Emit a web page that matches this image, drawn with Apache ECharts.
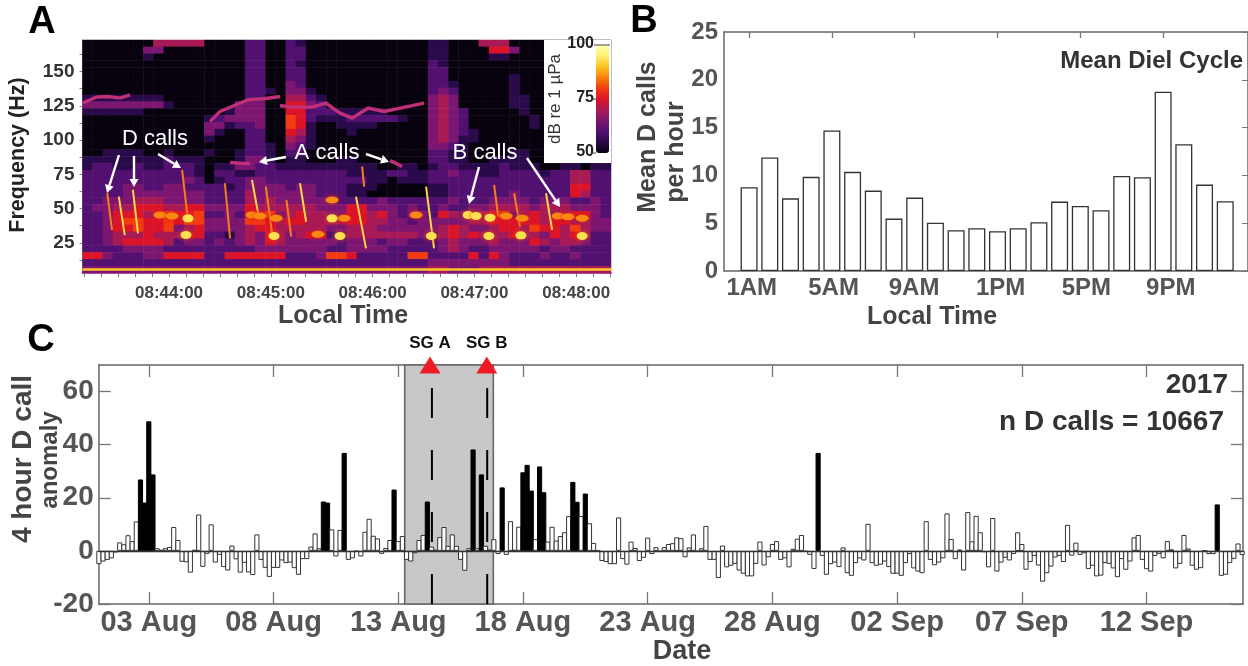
<!DOCTYPE html>
<html><head><meta charset="utf-8">
<style>html,body{margin:0;padding:0;background:#fff}#c{width:1248px;height:666px}</style>
<script src="https://cdn.jsdelivr.net/npm/echarts@6/dist/echarts.min.js"></script>
</head><body><div id="c"></div>
<script>
// ---------- Panel A: spectrogram levels (0..9 => 50..95 dB), rows 173 Hz downward in 5 Hz steps, columns 6 s
const specRows = [
"0000000444 4400002200 2100000000 0000110004 4400000000 00",
"0000003300 0000002200 2200000000 0000110000 5530000000 00",
"0000001000 0000002200 2200000000 0000110000 1100000000 00",
"0000000000 0000002200 2100000000 0000210000 0000000000 00",
"0000000000 0000002200 2200000000 0000220000 0000000000 00",
"0000000000 0000002200 2200000000 0000220000 0010000000 00",
"0000000000 0000002200 3200000000 0000221000 0010000000 00",
"0000000000 0000002210 3310000000 0000232000 0010000000 00",
"1111111100 0000002200 4421000000 0000343000 0011000000 00",
"3333333310 0000033300 5532000000 0000343000 0011000000 00",
"1111110000 0000133300 5522211111 0000343200 0001000000 00",
"0000000000 0012333300 6521112222 2100343200 0000100000 00",
"0000000000 0033122300 6510011110 0000343200 0000100000 00",
"0000000000 0031002200 5410001000 0000343210 0000000000 00",
"0000000000 0010002200 4310000000 0000343110 0000000000 00",
"0000000000 0000002210 3210000000 0000332100 0000000000 00",
"0011110010 0010012210 2200000000 0000221100 0011000000 00",
"1111111121 1100013310 1100011000 0000221100 1111000000 00",
"1221121122 2101133221 1111111110 0110122111 1211100110 11",
"2222222222 2102211222 2222221111 2211223221 1222212244 22",
"2222222222 3201223322 2222222211 0111222222 2222222244 22",
"2222332233 2222123333 2332221110 0000112222 2222222255 22",
"2222333333 3322224333 3332221100 0000112222 2232222254 22",
"2233344433 3322224343 3333222223 2222223222 3333233322 32",
"2334455544 5533335444 4443335533 3232232233 4444344433 32",
"2235554565 5622325563 4544335545 3233254324 5634543455 32",
"2235665565 6633336654 5544445544 3323333344 5555545544 33",
"2235565563 4533334554 4444334443 3333345433 4554655464 33",
"2234445444 5522134354 3455224444 4443245454 4454435454 22",
"2234555542 3323234354 3333323332 3322234333 4333543443 22",
"2222333322 2222222333 3333223333 2222234322 3333323322 22",
"5532223355 5522555555 2223665222 2266222252 5322232232 22",
"2222222222 2222222222 2222222222 2222333333 3322222222 22",
"3333333333 3333333333 3333333333 3333443334 4444444444 44"
];
// sloped call strokes [t0,f0,t1,f1] (seconds after 08:43:00, Hz)
const brightCalls = [[30.4,58.7,33.9,30.7],[38.7,63.6,41.7,31.9],[108.9,70.9,112.5,46.5],[137.2,68.5,140.8,40.4],[170.2,58.7,176.1,21],[211.5,66,216.2,21],[282.2,61.2,285.8,34.4]];
const dimCalls = [[23.6,61.2,26.4,34.4],[67.7,78.2,70.7,46.5],[92.9,68.5,96,28.3],[117.1,66,120.7,31.9],[129.2,56.3,132,29.5],[173.8,80.7,175,66],[251.6,67.3,254,44.1],[263.4,61.2,266.9,36.8]];
// narrowband tonal tracks near 125 Hz and the A-call pieces
const tonal1 = [[9.2,127],[17,131.3],[24,131.8],[31.1,130.6],[37,133]];
const tonal2 = [[84.2,113.5],[90.1,120.9],[97.1,124.5],[106.6,129.4],[116,130.1],[125.4,131.8]];
const tonal3 = [[125.4,125],[134.9,124],[144.3,124],[152.5,127],[160.8,119.6],[167.9,116],[177.3,123.3],[186.8,120.9],[196.2,123.3],[210.3,127]];
const aCall1 = [[96,83.6],[107.8,82.6]];
const aCall2 = [[190.3,85],[197.4,80.7]];
const lowBand = [[9,5.6],[320.5,5.6]];
const brightSpots = [[71.2,42.9],[70,30.7],[121.9,30],[156.1,42.9],[160.8,30],[214.6,30],[236.3,45.3],[241,44.6],[249.2,43.4],[248.5,30],[267.4,30.5],[303.5,30]];
const warmSpots = [[108.9,45.3],[113.6,44.6],[123.1,42.9],[156.1,56.3],[163.2,42.9],[147.8,31.2],[205.6,45.3],[258.7,44.6],[268.1,42.9],[289.3,44.6],[295.2,44.1],[303.5,42.9],[54.7,45.3],[61.8,44.6]];
const freqTicks = [12.5,25,37.5,50,62.5,75,87.5,100,112.5,125,137.5,150,162.5];
const freqLabels = [25,50,75,100,125,150];
const timeTicks = [10,20,30,40,50,60,70,80,90,100,110,120,130,140,150,160,170,180,190,200,210,220,230,240,250,260,270,280,290,300,310,320];
const timeLabelSec = [60,120,180,240,300];
const timeLabels = ['08:44:00','08:45:00','08:46:00','08:47:00','08:48:00'];

// ---------- Panel B
const hours = [1,2,3,4,5,6,7,8,9,10,11,12,13,14,15,16,17,18,19,20,21,22,23,24];
const dielMeans = [8.76,11.87,7.6,9.85,14.7,10.37,8.41,5.48,7.68,5.06,4.26,4.47,4.16,4.47,5.1,7.26,6.8,6.35,9.95,9.81,18.75,13.27,9.04,7.3];
const hourTicks = [1,5,9,13,17,21];
const hourLabelPos = [1.13,5.08,8.97,13.15,17.29,21.37];
const hourLabels = ['1AM','5AM','9AM','1PM','5PM','9PM'];

// ---------- Panel C: 4-hour bins starting 1 Aug
const anomaly = [
-5,-4,-3.4,-2.8,-0.6,3.2,2.5,5.9,3.7,11.1,26.9,18.2,48.8,28.8,1,0.4,1,1.5,9,4.1,
-4.1,-4.3,-8.2,0.4,13.7,-6,-1.1,10,-4.4,-1.5,-6.1,-7.4,2,-3.2,-8.2,-4.5,-8.1,-9.1,6.2,-3.4,
-6.4,-9.8,-6.4,-6.4,-3.6,-4.6,-4.4,-6.5,-9,-3.1,-3.1,1.6,6.6,1,18.6,18.2,8.1,-2.1,7.9,36.9,
-3.4,-2.8,-0.2,-2.1,7.2,12.1,5.7,4.7,-1.1,1.1,4.1,23.1,3.7,5.6,-3.4,-4,-0.9,4.1,6,18.6,
1.6,0.4,5.2,9,1.9,6.2,1.9,-3.4,-7.5,1,38.2,1,28.8,1.9,0.5,4.4,-1.2,23.9,-1.5,11.2,
0.4,9.1,29.6,32.4,22.7,4.4,31.8,22.1,3.5,9.1,3.9,5.6,7,13.1,26,18.5,13.1,21.6,10.4,3,
0.1,-3.8,-4.2,-5,-5,12.6,-3.1,-5.2,3.5,1.1,-3.8,-2.6,5,-1.2,1.4,-0.2,1.4,2.6,2.9,5.1,
4.8,-2.4,1.3,6.2,-0.2,1,9.4,-3.4,-3.4,-10.2,2,-6.2,-5.6,-4.9,-7.4,-8.6,-9.6,-9.6,-4.9,3.5,
-5.5,-2.4,2.6,3.7,-3.4,-2.8,-6.2,0.8,4.6,6,-0.3,-1.5,-6.8,36.9,-1.9,-9,-5,-4.4,-6.1,1.3,
-8.4,-9.4,-4.6,-2.8,-3.6,10.2,-4.6,-5.6,-5.2,-4,-6.1,-8.6,-8.6,-9.4,-4.6,-1.2,-6.6,-7.8,-8.4,11.2,
-3.4,-5.4,-4.4,-2.8,14.1,4.5,-3.1,0.5,-7.4,14.6,3.6,13.2,7,-0.5,-6.2,12.4,-7.8,-4.4,-2.6,-3.6,
-1.2,7,2.6,-7.1,-4.2,-1.9,-5.5,-11.6,-8.4,-5.9,-2.5,-1.9,-4.2,9.8,-1.8,3.1,-1.5,-0.9,-6.8,-5.6,
-9.6,-9.3,-4.6,-4.9,-6.6,-9.9,-3.1,-7.1,-4,5.1,6,-3.4,-6.9,-7.8,-1.9,-1.1,-2.8,3.7,0.6,-6.6,
-4.9,6,0.9,-5.6,-7.1,-6.5,0,-1.2,-1.2,17.5,-9.4,-9,-4.6,-3,2.8,-1.6];
const dateTicks = [13,43,73,103,133,163,193,223,253];
const dateLabels = ['03 Aug','08 Aug','13 Aug','18 Aug','23 Aug','28 Aug','02 Sep','07 Sep','12 Sep'];
const anomalyTicks = [-20,0,20,40,60];
const glidersN = [80.65,94.3];
const gliderNames = ['SG A','SG B'];
const gliderLineN = [81.1,94.4];
const gliderWindow = [74.56,95.87];
const highThreshold = 15;

// ---------- layout / style
const F = '"Liberation Sans", Arial, sans-serif';
const AX = '#666', LBL = '#555';
const heatCells = [];
const cleanRows = specRows.map(r => r.replace(/ /g,''));
cleanRows.forEach((row, r) => { for (let c = 0; c < row.length; c++) heatCells.push([c, r, 50 + 5 * Number(row[c])]); });
const colCats = cleanRows[0].split('').map((_, i) => String(i));
const rowCats = cleanRows.map((_, i) => String(i));
const segs = a => a.map(s => ({coords: [[s[0], s[1]], [s[2], s[3]]]}));
const axisOff = {show:false};
const ticks = (vals, len, inside, color) => ({show:true, inside, length:len, customValues:vals, lineStyle:{color:color||'#777', width:1.3}});

const option = {
  animation:false, backgroundColor:'#fff',
  grid:[
    {left:82.5, top:40, width:528.5, height:233},
    {left:82.5, top:40, width:528.5, height:233},
    {left:724, top:32, width:527, height:239},
    {left:98.7, top:365, width:1144.3, height:239}
  ],
  xAxis:[
    {type:'category', gridIndex:0, data:colCats, show:false},
    {type:'value', gridIndex:1, min:9, max:320.5, splitLine:axisOff,
      axisLine:{show:true, onZero:false, lineStyle:{color:'#c25ac4', width:2}},
      axisTick:{show:true, length:4, customValues:timeTicks, lineStyle:{color:'#777', width:1}},
      axisLabel:{customValues:timeLabelSec, margin:12, color:'#444', fontFamily:F, fontWeight:'bold', fontSize:17,
        formatter:v => timeLabels[timeLabelSec.indexOf(v)] || ''}},
    {type:'value', gridIndex:2, min:-0.2115, max:25.1, splitLine:axisOff,
      axisLine:{show:true, onZero:false, lineStyle:{color:AX, width:1.5}}, axisTick:{show:false},
      axisLabel:{customValues:hourLabelPos, margin:5, color:LBL, fontFamily:F, fontWeight:'bold', fontSize:24,
        formatter:v => hourLabels[hourLabelPos.indexOf(v)] || ''}},
    {type:'value', gridIndex:2, position:'top', min:-0.2115, max:25.1, splitLine:axisOff,
      axisLine:{show:true, onZero:false, lineStyle:{color:AX, width:1.5}},
      axisTick:ticks(hourTicks,6,true), axisLabel:{show:false}},
    {type:'value', gridIndex:3, min:0.95, max:276.2, splitLine:axisOff,
      axisLine:{show:true, onZero:false, lineStyle:{color:AX, width:1.5}},
      axisTick:ticks(dateTicks,12,true),
      axisLabel:{customValues:dateTicks, margin:4, color:LBL, fontFamily:F, fontWeight:'bold', fontSize:29,
        formatter:v => dateLabels[dateTicks.indexOf(v)] || ''}},
    {type:'value', gridIndex:3, position:'top', min:0.95, max:276.2, splitLine:axisOff,
      axisLine:{show:true, onZero:false, lineStyle:{color:AX, width:1.5}},
      axisTick:ticks(dateTicks,12,true), axisLabel:{show:false}}
  ],
  yAxis:[
    {type:'category', gridIndex:0, data:rowCats, inverse:true, show:false},
    {type:'value', gridIndex:1, min:3, max:173, splitLine:axisOff,
      axisLine:{show:true, onZero:false, lineStyle:{color:'#999', width:1}},
      axisTick:{show:true, length:3, customValues:freqTicks, lineStyle:{color:'#888', width:1}},
      axisLabel:{customValues:freqLabels, margin:8, color:'#333', fontFamily:F, fontWeight:'bold', fontSize:19}},
    {type:'value', gridIndex:2, min:0, max:25, interval:5, splitLine:axisOff,
      axisLine:{show:true, onZero:false, lineStyle:{color:AX, width:1.5}}, axisTick:{show:false},
      axisLabel:{margin:6, color:LBL, fontFamily:F, fontWeight:'bold', fontSize:24}},
    {type:'value', gridIndex:2, position:'right', min:0, max:25, interval:5, splitLine:axisOff,
      axisLine:{show:true, onZero:false, lineStyle:{color:AX, width:1.5}},
      axisTick:{show:true, inside:true, length:6, lineStyle:{color:'#777'}}, axisLabel:{show:false}},
    {type:'value', gridIndex:3, min:-20, max:70, splitLine:axisOff,
      axisLine:{show:true, onZero:false, lineStyle:{color:AX, width:1.5}},
      axisTick:ticks(anomalyTicks,12,true),
      axisLabel:{customValues:anomalyTicks, margin:5, color:LBL, fontFamily:F, fontWeight:'bold', fontSize:28}},
    {type:'value', gridIndex:3, position:'right', min:-20, max:70, splitLine:axisOff,
      axisLine:{show:true, onZero:false, lineStyle:{color:AX, width:1.5}},
      axisTick:ticks(anomalyTicks,12,true), axisLabel:{show:false}}
  ],
  visualMap:{type:'continuous', seriesIndex:0, min:50, max:100, left:596, top:45, itemWidth:13, itemHeight:108,
    text:['',''], showLabel:false, calculable:false, hoverLink:false, padding:0, borderWidth:0,
    inRange:{color:['#08020f','#2a0a4a','#521070','#7d1670','#a81a55','#dc1428','#f23c10','#f98208','#fcc420','#fdf070','#feffb8']}},
  series:[
    {type:'heatmap', xAxisIndex:0, yAxisIndex:0, data:heatCells, z:1, silent:true, progressive:0},
    {type:'lines', coordinateSystem:'cartesian2d', xAxisIndex:1, yAxisIndex:1, polyline:true, z:2, silent:true,
      lineStyle:{color:'#c03078', width:3.4, opacity:1},
      data:[tonal1,tonal2,tonal3,aCall1,aCall2].map(c => ({coords:c}))},
    {type:'lines', coordinateSystem:'cartesian2d', xAxisIndex:1, yAxisIndex:1, polyline:true, z:2, silent:true,
      lineStyle:{color:'#fdc82a', width:2.5, opacity:1}, data:[{coords:lowBand}]},
    {type:'scatter', xAxisIndex:1, yAxisIndex:1, data:warmSpots, symbol:'circle', symbolSize:[13,7], z:2, silent:true,
      itemStyle:{color:'#f98a10', opacity:1, shadowBlur:5, shadowColor:'#e02020'}},
    {type:'scatter', xAxisIndex:1, yAxisIndex:1, data:brightSpots, symbol:'circle', symbolSize:[11,8], z:2, silent:true,
      itemStyle:{color:'#fde050', opacity:1, shadowBlur:5, shadowColor:'#f05010'}},
    {type:'lines', coordinateSystem:'cartesian2d', xAxisIndex:1, yAxisIndex:1, z:2, silent:true,
      lineStyle:{color:'#f4801a', width:2, opacity:1}, data:segs(dimCalls)},
    {type:'lines', coordinateSystem:'cartesian2d', xAxisIndex:1, yAxisIndex:1, z:2, silent:true,
      lineStyle:{color:'#fcd848', width:2, opacity:1}, data:segs(brightCalls)},
    {type:'bar', xAxisIndex:2, yAxisIndex:2, barWidth:17, z:2, silent:true,
      itemStyle:{color:'#fff', borderColor:'#333', borderWidth:1.3},
      data:hours.map((h,i) => [h, dielMeans[i]])},
    {type:'line', xAxisIndex:4, yAxisIndex:4, data:[], z:1, silent:true,
      markArea:{silent:true, itemStyle:{color:'#c8c8c8', borderColor:'#666', borderWidth:1.6},
        data:[[{xAxis:gliderWindow[0]},{xAxis:gliderWindow[1]}]]}},
    {type:'bar', xAxisIndex:4, yAxisIndex:4, barWidth:5.16, z:2, silent:true,
      data:anomaly.map((v,i) => ({value:[i+1, v],
        itemStyle:{color:v > highThreshold ? '#000' : '#fff', borderColor:v > highThreshold ? '#000' : '#333', borderWidth:1}})),
      markLine:{silent:true, symbol:'none', label:{show:false}, lineStyle:{color:'#333', type:'solid', width:1.3}, data:[{yAxis:0}]}},
    ...gliderLineN.map(n => ({type:'line', xAxisIndex:4, yAxisIndex:4, z:3, silent:true, symbol:'none',
      lineStyle:{color:'#000', width:2, type:[30,32]}, data:[[n,61.3],[n,-20]]})),
    {type:'scatter', xAxisIndex:4, yAxisIndex:4, z:4, silent:true, clip:false, symbol:'triangle', symbolSize:[21,17],
      itemStyle:{color:'#ee1c25', opacity:1},
      label:{show:true, position:'top', distance:5, color:'#111', fontFamily:F, fontWeight:'bold', fontSize:17,
        formatter:p => gliderNames[p.dataIndex]},
      data:glidersN.map(n => [n,70])}
  ],
  graphic:{elements:[]}
};

const g = option.graphic.elements;
function txt(s, x, y, size, color, o) {
  o = o || {};
  g.push({type:'text', x, y, rotation:o.rot||0, z:o.z||20, silent:true,
    style:{text:s, fill:color, font:(o.normal?'':'bold ')+size+'px '+F, textAlign:o.align||'center', textVerticalAlign:'middle', align:o.align||'center', verticalAlign:'middle'}});
}
function arrow(x0,y0,x1,y1) {
  const a = Math.atan2(y1-y0, x1-x0), L = 8, W = 4.5;
  const bx = x1-L*Math.cos(a), by = y1-L*Math.sin(a);
  g.push({type:'line', z:20, silent:true, shape:{x1:x0,y1:y0,x2:bx,y2:by}, style:{stroke:'#fff', lineWidth:2.4}});
  g.push({type:'polygon', z:20, silent:true, shape:{points:[[x1,y1],[bx-W*Math.sin(a),by+W*Math.cos(a)],[bx+W*Math.sin(a),by-W*Math.cos(a)]]}, style:{fill:'#fff'}});
}
const R = Math.PI/2;
// colour-bar panel background
g.push({type:'rect', z:3, silent:true, shape:{x:544,y:40,width:67,height:123}, style:{fill:'#fff'}});
txt('dB re 1 µPa', 555, 99, 17, '#333', {rot:R, normal:true});
txt('100', 594, 44, 16, '#222', {align:'right'});
txt('75', 594, 98, 16, '#222', {align:'right'});
txt('50', 594, 152, 16, '#222', {align:'right'});
[[594,45,610,45],[591,99,596,99],[591,153,596,153]].forEach(p => g.push({type:'line', z:20, silent:true, shape:{x1:p[0],y1:p[1],x2:p[2],y2:p[3]}, style:{stroke:'#444', lineWidth:1}}));
// panel letters
txt('A', 42, 23, 38, '#000');
txt('B', 644, 22, 38, '#000');
txt('C', 41, 341, 38, '#000');
// panel A text
txt('Frequency (Hz)', 18, 155, 21.5, '#222', {rot:R});
txt('Local Time', 343, 316, 25, '#444');
txt('D calls', 155, 139, 22, '#fff', {normal:true});
txt('A calls', 327, 153, 22, '#fff', {normal:true});
txt('B calls', 485, 153, 22, '#fff', {normal:true});
[[119,155,107,193],[134,156,134,187],[158,154,181,168],[286,157,259,162],[366,154,389,162],[479,167,469,204],[527,158,560,207]].forEach(p => arrow(p[0],p[1],p[2],p[3]));
// panel B text
txt('Mean D calls', 648, 137, 25, '#444', {rot:R});
txt('per hour', 676, 152, 25, '#444', {rot:R});
txt('Local Time', 932, 317, 25, '#444');
txt('Mean Diel Cycle', 1243, 61, 24, '#333', {align:'right'});
// panel C text
txt('4 hour D call', 23, 459, 28, '#444', {rot:R});
txt('anomaly', 50, 460, 24, '#444', {rot:R});
txt('Date', 682, 652, 27, '#444');
txt('2017', 1228, 385, 28, '#333', {align:'right'});
txt('n D calls = 10667', 1224, 422, 28, '#333', {align:'right'});

echarts.init(document.getElementById('c'), null, {renderer:'canvas'}).setOption(option);
</script></body></html>
